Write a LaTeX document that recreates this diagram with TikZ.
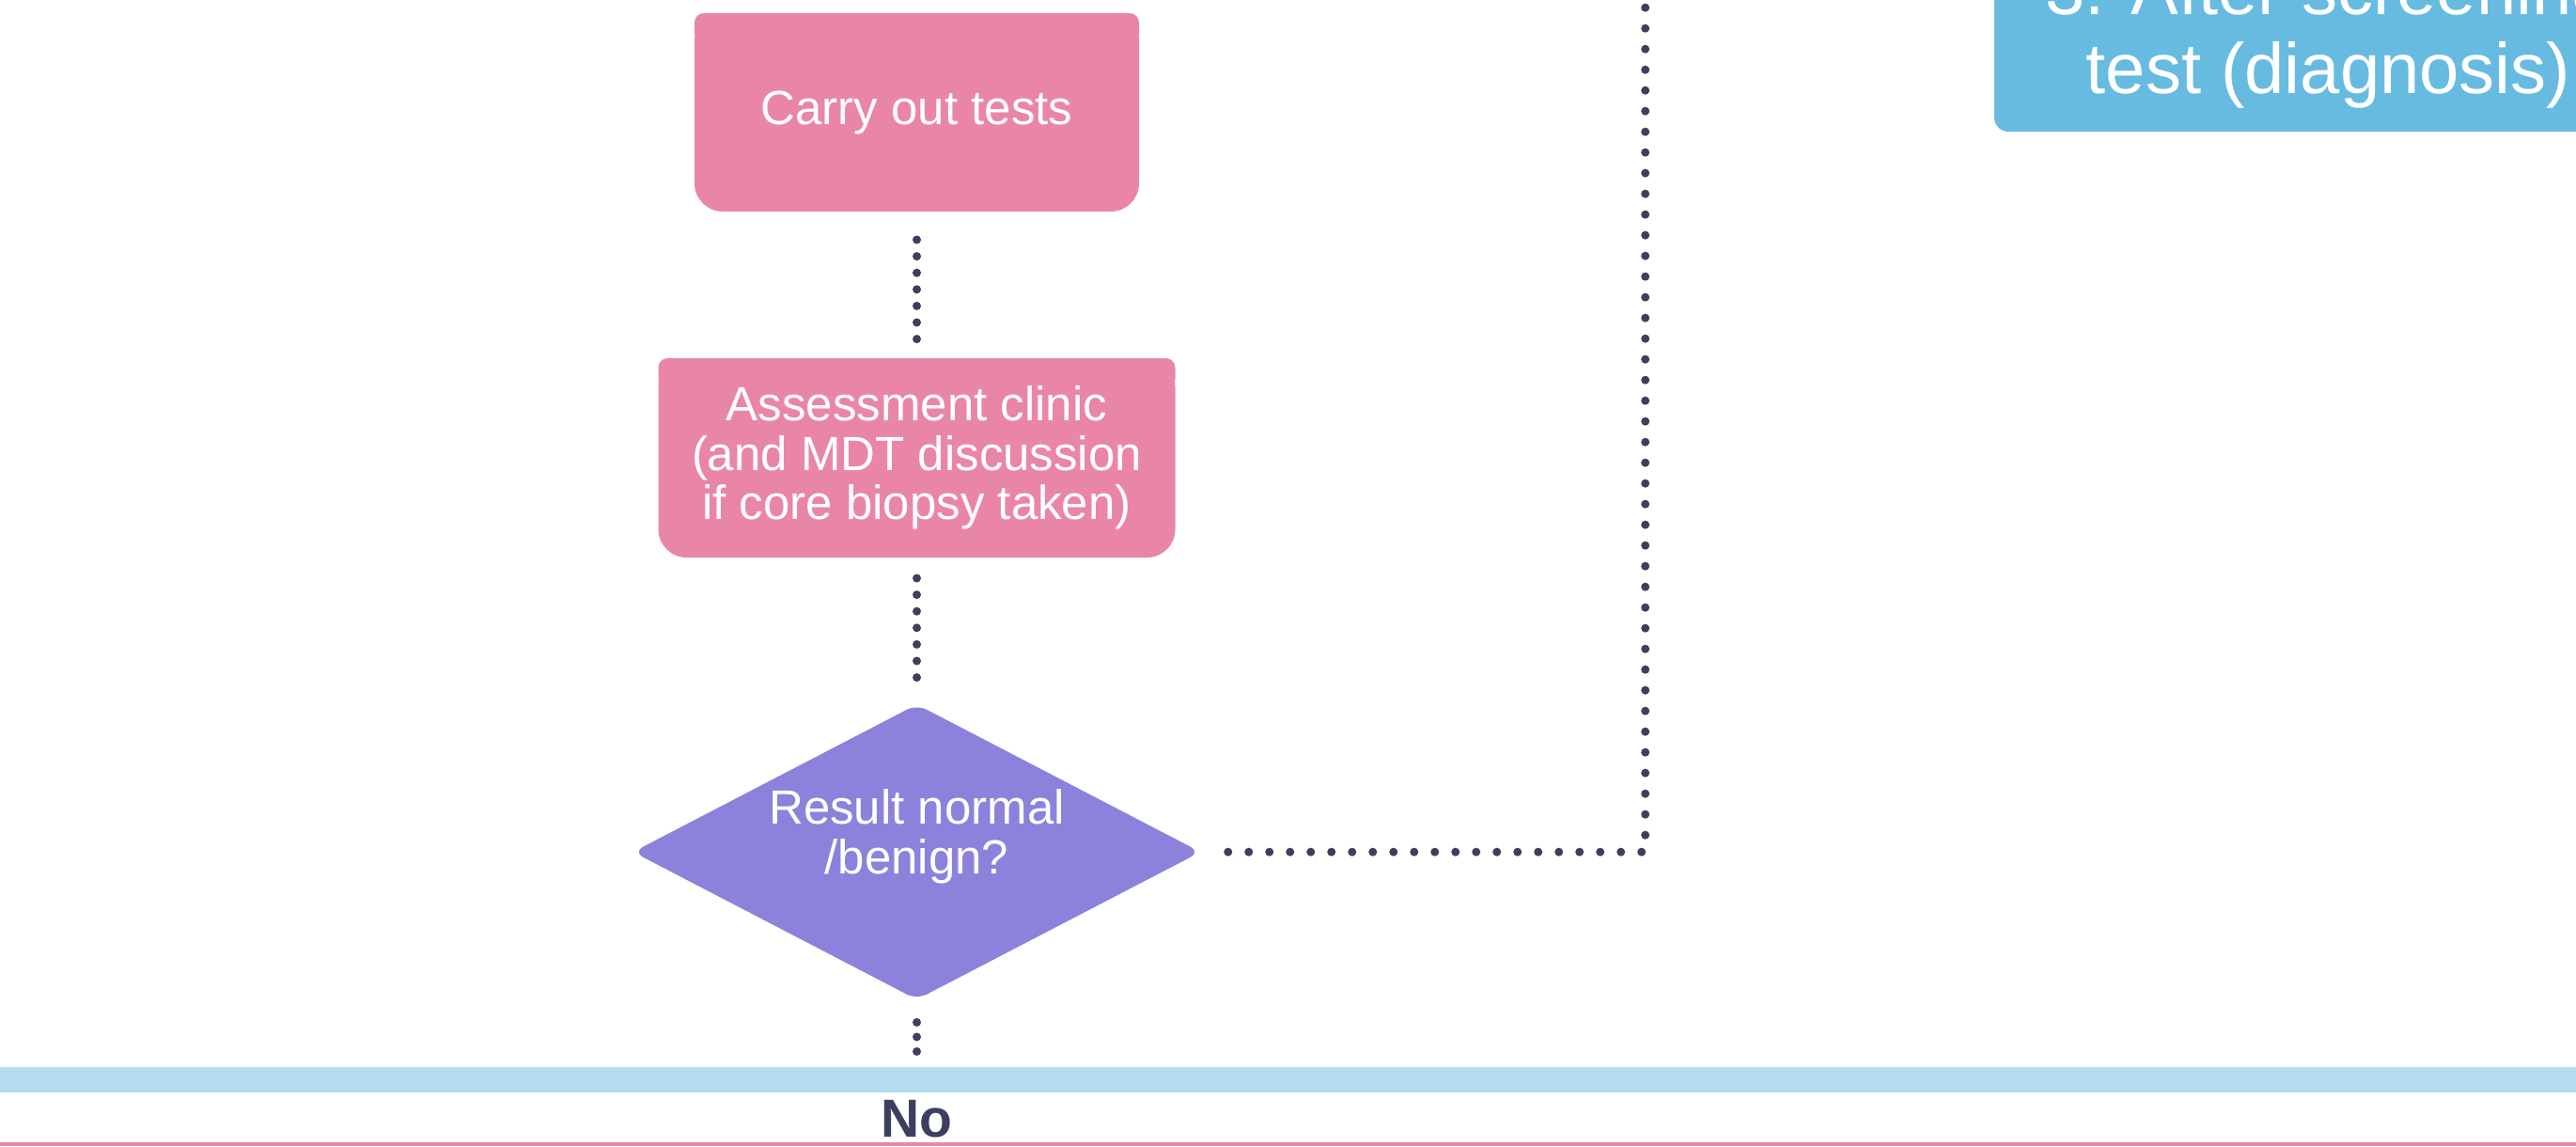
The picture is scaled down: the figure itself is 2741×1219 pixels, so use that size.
\documentclass[tikz,border=0pt]{standalone}
\usepackage{fontspec}
\setmainfont{Liberation Sans}
\usepackage{xcolor}
\usepackage{tikz}
\usetikzlibrary{positioning}
\usetikzlibrary{shapes.geometric}
\usetikzlibrary{backgrounds}
\definecolor{pinkbox}{HTML}{E986A6}
\definecolor{purplebox}{HTML}{8C82DC}
\definecolor{bluebox}{HTML}{67BBE1}
\definecolor{bluebar}{HTML}{B4DDF0}
\definecolor{navy}{HTML}{3C3F5E}
\tikzset{ 
testbox/.style={
  rectangle,
  fill=pinkbox,
  rounded corners=30pt,
  inner sep=0pt,
  outer sep=0pt,
  text=white,
  align=center,
  font=\fontsize{51}{52.5}\selectfont
},
decision/.style={
  diamond,
  aspect=1.92,
  fill=purplebox,
  rounded corners=12pt,
  minimum width=604pt,
  minimum height=314pt,
  inner sep=0pt,
  text height=57pt,
  text=white,
  align=center,
  font=\fontsize{51}{53}\selectfont
},
stagebox/.style={
  rectangle,
  fill=bluebox,
  rounded corners=15pt,
  inner sep=0pt,
  text=white,
  align=center,
  font=\fontsize{76}{84}\selectfont
},
nolabel/.style={inner sep=0pt,text=navy,font=\bfseries\fontsize{57}{60}\selectfont},
dots/.style={draw=navy,line width=9pt,line cap=round,dash pattern=on 0pt off 17.6pt},
%longdots/.style={dots,dash pattern=on 0pt off 22pt},
}

\begin{document}
\begin{tikzpicture}[x=1pt,y=-1pt]
\useasboundingbox (0,0) rectangle (2741,1219);
\clip (0,0) rectangle (2741,1219);
\node[testbox,minimum width=473pt,minimum height=211pt] (carry) at (975.5,119.5) {Carry out tests};
\node[testbox,minimum width=550pt,minimum height=212pt,below=156pt of carry] (assess)
  {Assessment clinic\\(and MDT discussion\\if core biopsy taken)};
\node[decision,below=156pt of assess] (result) {Result normal\\/benign?};
\node[nolabel,anchor=base] (no) at (975.5,1209) {No};
\node[stagebox,minimum width=711pt,minimum height=204pt] (stage) at (2477.5,38)
  {3. After screening\\test (diagnosis)};
\path (result.east) ++(473,0) coordinate (turn);
\coordinate (exit) at (turn |- 0,0);
% the top corners
\begin{scope}[on background layer]
\foreach \n in {carry,assess}
{
  \fill[pinkbox,rounded corners=10pt]
    (\n.north west) rectangle ([yshift=-32pt]\n.north east);
}
\end{scope}
% the bands
\fill[bluebar] (0,1135) rectangle (2741,1162);
\fill[pinkbox] (0,1215) rectangle (2741,1219);
% the dotted links
\draw[dots,shorten <=30pt,shorten >=20pt] (carry) -- (assess);
\draw[dots,shorten <=22pt,shorten >=25pt] (assess) -- (result);
\draw[dots,dash pattern=on 0pt off 15.5pt,shorten <=24pt,shorten >=48pt] (result) -- (no);
\draw[dots,dash pattern=on 0pt off 22pt,shorten <=29pt] (result) -- (turn) -- (exit);
\end{tikzpicture}
\end{document}
